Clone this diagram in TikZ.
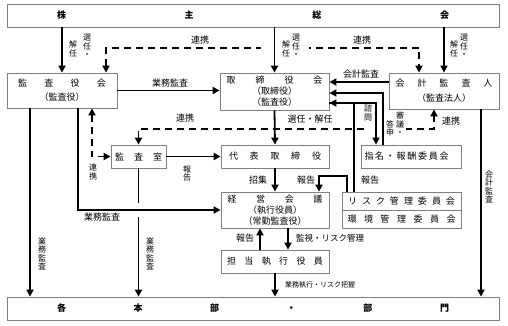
\documentclass[tikz,border=0pt]{standalone}
\usepackage{fontspec}
\setmainfont{Noto Sans CJK JP}
\usetikzlibrary{arrows.meta}
\definecolor{boxgray}{HTML}{808080}
\begin{document}
\begin{tikzpicture}[x=1pt,y=-1pt,
  box/.style={draw=boxgray, line width=0.8pt, fill=white, inner sep=0pt, font=\fontsize{9}{11}\selectfont, align=center},
  arr/.style={line width=1.8pt, -{Triangle[length=7pt,width=7pt]}},
  darr/.style={line width=1.8pt, dash pattern=on 7pt off 5pt, {Triangle[length=7pt,width=7pt]}-{Triangle[length=7pt,width=7pt]}},
  lab/.style={inner sep=0pt, font=\fontsize{9}{9}\selectfont},
  vlab/.style={inner sep=0pt, align=center, font=\fontsize{8}{8.4}\selectfont},
]
\useasboundingbox (0,0) rectangle (508,325);
% boxes
\node[box, minimum width=492pt, minimum height=23pt] (kabu) at (253,15.5) {\bfseries\makebox[392pt]{株\hfill 主\hfill 総\hfill 会}};
\node[box, minimum width=492pt, minimum height=23pt] (honbu) at (253,308.5) {\bfseries\makebox[392pt]{各\hfill 本\hfill 部\hfill ・\hfill 部\hfill 門}};
\node[box, minimum width=110pt, minimum height=35pt] (kyk) at (62,90.5) {\makebox[88pt]{監\hfill 査\hfill 役\hfill 会}\\[3pt]（監査役）};
\node[box, minimum width=109pt, minimum height=37pt] (tk) at (274.5,91.5) {\makebox[96pt]{取\hfill 締\hfill 役\hfill 会}\\（取締役）\\（監査役）};
\node[box, minimum width=110pt, minimum height=36pt] (kk) at (444,91) {\makebox[97pt]{会\hfill 計\hfill 監\hfill 査\hfill 人}\\[4pt]（監査法人）};
\node[box, minimum width=55pt, minimum height=23pt] (ks) at (138.5,156.5) {\makebox[47pt]{監\hfill 査\hfill 室}};
\node[box, minimum width=108pt, minimum height=23pt] (dh) at (275,156.5) {\makebox[92pt]{代\hfill 表\hfill 取\hfill 締\hfill 役}};
\node[box, minimum width=100pt, minimum height=23pt] (sm) at (411,156.5) {\makebox[84pt]{指\hfill 名\hfill ・\hfill 報\hfill 酬\hfill 委\hfill 員\hfill 会}\hspace{9pt}};
\node[box, minimum width=119pt, minimum height=18pt] (risk) at (401.5,201) {\makebox[107pt]{リ\hfill ス\hfill ク\hfill 管\hfill 理\hfill 委\hfill 員\hfill 会}};
\node[box, minimum width=119pt, minimum height=18pt] (kankyo) at (401.5,219) {\makebox[108pt]{環\hfill 境\hfill 管\hfill 理\hfill 委\hfill 員\hfill 会}};
\node[box, minimum width=108pt, minimum height=36pt] (keiei) at (275,210) {\makebox[95pt]{経\hfill 営\hfill 会\hfill 議}\\（執行役員）\\（常勤監査役）};
\node[box, minimum width=108pt, minimum height=23pt] (tanto) at (275,261.5) {\makebox[96pt]{担\hfill 当\hfill 執\hfill 行\hfill 役\hfill 員}};
% dashed connectors
\draw[darr] ([xshift=44pt]kyk.north) -- ++(0,-25) -| ([xshift=-25pt]kk.north);
\draw[darr] (ks.north) -- ++(0,-16) -| ([xshift=-10pt]kk.south);
\draw[darr] ([xshift=30pt]kyk.south) |- (ks.west);
\fill[white] (261,44) rectangle (309,52);
\fill[white] (368,125) rectangle (406,133);
% solid connectors
\draw[arr] (kabu.south -| kyk.north) -- (kyk.north);
\draw[arr] (kabu.south -| tk.north) -- (tk.north);
\draw[arr] (kabu.south -| kk.north) -- (kk.north);
\draw[arr] (kyk.east) -- (kyk.east -| tk.west);
\draw[arr] ([yshift=9pt]kk.west) -- ([yshift=9pt]kk.west -| tk.east);
\draw[arr] ([xshift=-28pt]sm.north) |- ([yshift=-1.5pt]tk.east);
\draw[arr] ([yshift=-11.5pt]tk.east) -| ([xshift=-35pt]sm.north);
\draw[arr] ([xshift=-47.5pt]risk.north) |- ([yshift=-11.5pt]tk.east);
\draw[arr] ([xshift=-54.5pt]risk.north) -- ++(0,-16) -| ([xshift=44pt]keiei.north);
\draw[arr] (tk.south) -- (dh.north);
\draw[arr] (dh.south) -- (keiei.north);
\draw[arr] (ks.east) -- (ks.east -| dh.west);
\draw[arr] ([xshift=-15pt]tanto.north) -- ([xshift=-15pt]keiei.south);
\draw[arr] ([xshift=13pt]keiei.south) -- ([xshift=13pt]tanto.north);
\draw[arr] (tanto.south) -- (tanto.south |- honbu.north);
\draw[arr] ([xshift=37pt]kk.south) -- ([xshift=37pt]kk.south |- honbu.north);
\draw[arr] ([xshift=-32pt]kyk.south) -- ([xshift=-32pt]kyk.south |- honbu.north);
\draw[arr] (ks.south) -- (ks.south |- honbu.north);
\fill[white] (132,203) rectangle (145,217);
\draw[arr] ([xshift=16pt]kyk.south) |- (keiei.west);
% labels
\node[lab] (t1) at (200,40) {連携};
\node[lab] (t2) at (362,40) {連携};
\node[lab] (t3) at (185,118) {連携};
\node[vlab] (t4) at (93,172) {連\\携};
\node[lab] (t5) at (451,121) {連携};
\node[vlab] (a1) at (73,49) {解\\任};
\node[vlab] (a2) at (87,46) {選\\任\\・};
\node[vlab] (a3) at (286,49) {解\\任};
\node[vlab] (a4) at (296,46) {選\\任\\・};
\node[vlab] (a5) at (454,49) {解\\任};
\node[vlab] (a6) at (464,46) {選\\任\\・};
\node[lab] (g1) at (170,83) {業務監査};
\node[lab] (g2) at (361,74) {会計監査};
\node[vlab] (s1) at (368,113) {諮\\問};
\node[vlab] (s2) at (390,128.5) {答\\申};
\node[vlab] (s3) at (400,124) {審\\議\\・};
\node[lab] (s4) at (310,119) {選任・解任};
\node[vlab] (r1) at (187,173.5) {報\\告};
\node[lab] (r2) at (258,180) {招集};
\node[lab] (r3) at (306,180) {報告};
\node[lab] (r4) at (370,180) {報告};
\node[lab] (r5) at (245,238) {報告};
\node[lab, font=\fontsize{8.5}{9}\selectfont] (r6) at (330,238) {監視・リスク管理};
\node[lab, font=\fontsize{7}{8}\selectfont] (r7) at (320,285) {業務執行・リスク把握};
\node[lab] (g3) at (102,217) {業務監査};
\node[vlab] (g4) at (42,254) {業\\務\\監\\査};
\node[vlab] (g5) at (150,254) {業\\務\\監\\査};
\node[vlab] (g6) at (489,187) {会\\計\\監\\査};
\end{tikzpicture}
\end{document}
